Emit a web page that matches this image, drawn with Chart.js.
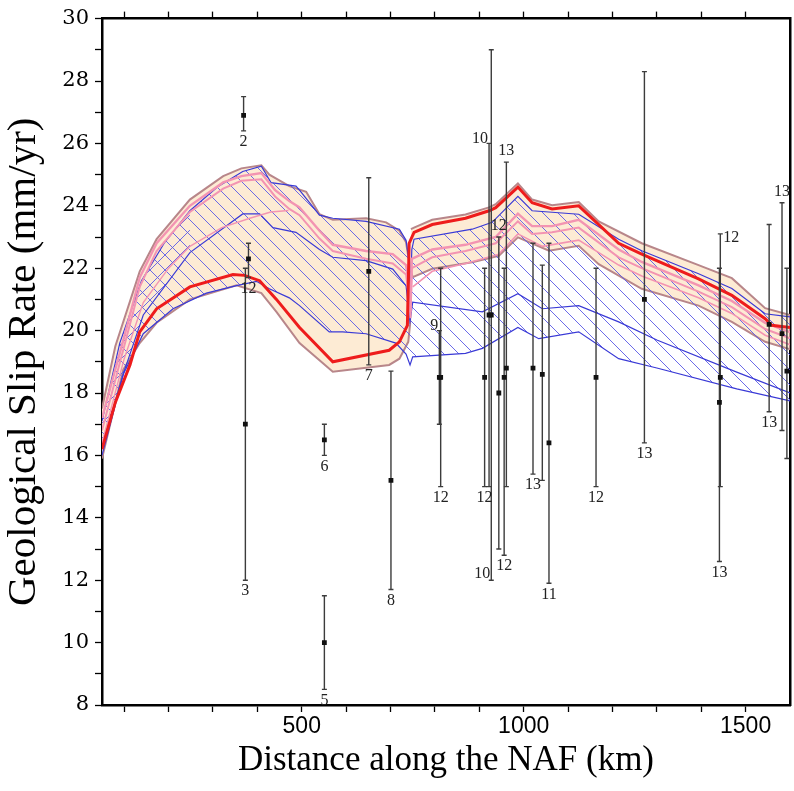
<!DOCTYPE html>
<html>
<head>
<meta charset="UTF-8">
<title>Geological slip rate along the NAF</title>
<script src="https://cdn.jsdelivr.net/npm/chart.js"></script>
<style>
  html, body { margin: 0; padding: 0; background: #fff; }
  #wrap { width: 794px; height: 791px; }
</style>
</head>
<body>
<div id="wrap"><canvas id="slipChart" width="794" height="791"></canvas></div>
<script>
// axis ticks
const xMajor = [500, 1000, 1500];
const xMinor = [100, 200, 300, 400, 500, 600, 700, 800, 900, 1000, 1100, 1200, 1300, 1400, 1500];
const yMajor = [8, 10, 12, 14, 16, 18, 20, 22, 24, 26, 28, 30];

// model curves, [km, mm/yr]
const redLine = [[50,16.2],[80,17.7],[113,18.9],[135,19.96],[173,20.7],[248,21.4],[345,21.8],[371,21.77],[405,21.6],[443,21.0],[495,20.1],[570,19.0],[697,19.37],[720,19.64],[738,20.17],[742,22.8],[753,23.15],[794,23.4],[869,23.6],[922,23.84],[937,23.94],[987,24.6],[1019,24.1],[1064,23.9],[1124,24.0],[1214,22.8],[1266,22.45],[1394,21.66],[1469,21.13],[1544,20.38],[1559,20.17],[1600,20.1]];

const beigeLeftTop = [[50,17.5],[80,19.5],[135,21.9],[173,22.93],[248,24.2],[323,24.95],[364,25.2],[409,25.3],[427,25.0],[472,24.63],[510,24.45],[540,23.73],[570,23.55],[645,23.6],[690,23.47],[720,23.2],[735,22.83],[742,22.2],[745,21.0]];
const beigeLeftBottom = [[50,15.9],[98,18.75],[135,19.6],[173,20.25],[248,21.0],[353,21.45],[409,21.2],[443,20.6],[495,19.6],[570,18.68],[697,18.9],[720,19.1],[740,19.64],[744,20.2]];
const beigeRightTop = [[746,23.25],[753,23.3],[794,23.55],[869,23.72],[922,23.95],[937,24.05],[987,24.72],[1019,24.2],[1064,24.02],[1124,24.12],[1169,23.5],[1266,22.8],[1394,22.1],[1469,21.68],[1544,20.72],[1600,20.5]];
const beigeRightBottom = [[746,21.9],[750,21.71],[794,21.98],[884,22.19],[944,22.4],[987,22.99],[1057,22.56],[1124,22.72],[1169,22.13],[1266,21.34],[1394,20.8],[1469,20.28],[1544,19.64],[1600,19.4]];

const blueTop = [[50,17.1],[90,19.6],[139,21.6],[190,22.8],[248,23.84],[310,24.6],[367,25.1],[409,25.27],[431,24.74],[487,24.63],[495,24.5],[540,23.7],[570,23.6],[645,23.5],[720,23.25],[735,22.9],[741,22.3],[744,20.8],[748,22.6],[753,22.93],[884,23.25],[929,23.47],[987,24.3],[1019,23.84],[1124,23.73],[1214,22.93],[1266,22.56],[1394,21.82],[1469,21.35],[1544,20.54],[1600,20.44]];
const blueMid = [[50,16.3],[100,18.7],[143,20.5],[248,22.5],[367,23.74],[405,23.74],[435,23.3],[487,23.15],[540,22.6],[570,22.35],[645,22.24],[705,21.97],[735,21.44],[744,20.3],[750,20.91],[907,20.6],[987,21.18],[1042,20.7],[1124,20.8],[1214,20.28],[1300,19.7],[1480,18.67],[1600,18.0]];
const blueBottom = [[50,16.0],[98,18.6],[143,19.9],[210,20.7],[285,21.2],[353,21.44],[398,21.58],[427,21.34],[472,21.05],[495,20.8],[562,19.96],[592,19.96],[645,19.9],[712,19.6],[735,19.25],[744,18.9],[750,19.16],[869,19.27],[907,19.43],[987,20.1],[1034,19.74],[1124,19.96],[1214,19.1],[1300,18.8],[1480,18.13],[1600,17.75]];

const pinkA = [[50,17.2],[100,19.8],[135,21.7],[173,22.8],[248,24.0],[323,24.75],[364,24.95],[409,25.05],[440,24.5],[472,24.15],[495,23.95],[540,23.2],[570,22.75],[645,22.55],[705,22.45],[735,22.1],[742,21.4],[745,20.6],[748,22.3],[794,22.6],[869,22.75],[937,23.0],[987,23.75],[1019,23.35],[1064,23.35],[1124,23.55],[1214,22.6],[1266,22.2],[1394,21.45],[1469,20.95],[1544,20.25],[1600,19.95]];
const pinkB = [[50,16.8],[100,19.5],[135,21.4],[173,22.55],[248,23.8],[323,24.55],[364,24.8],[409,24.85],[440,24.3],[472,23.9],[495,23.7],[540,22.95],[570,22.55],[645,22.3],[705,22.15],[735,21.8],[742,21.0],[745,20.4],[748,22.0],[794,22.35],[869,22.55],[937,22.8],[987,23.5],[1019,23.1],[1064,23.15],[1124,23.3],[1214,22.35],[1266,22.0],[1394,21.25],[1469,20.75],[1544,20.05],[1600,19.75]];
const pinkC = [[50,16.4],[100,19.1],[143,20.9],[200,22.0],[248,22.7],[320,23.3],[383,23.6],[430,23.8],[470,23.85]];
const pinkD = [[750,21.4],[794,21.9],[869,22.15],[944,22.45],[987,23.1],[1042,22.7],[1124,22.9],[1214,22.1],[1266,21.75],[1394,21.05],[1469,20.55],[1544,19.85],[1600,19.55]];

// geological sites
const siteX     = [369, 380, 373, 551, 551, 651, 701, 810, 813, 912, 922, 927, 944, 956, 961, 1021, 1042, 1057, 1163, 1272, 1443, 1441, 1553, 1582, 1593];
const siteRate  = [26.9, 22.3, 17.0, 16.5, 10.0, 21.9, 15.2, 18.5, 18.5, 18.5, 20.5, 20.5, 18.0, 18.5, 18.8, 18.8, 18.6, 16.4, 18.5, 21.0, 18.5, 17.7, 20.2, 19.9, 18.7];
const siteLow   = [26.4, 21.7, 12.0, 16.0, 8.5, 18.9, 11.7, 17.0, 15.0, 15.0, 15.0, 12.0, 13.0, 12.8, 15.0, 15.4, 15.2, 11.9, 15.0, 16.4, 15.0, 12.6, 17.4, 16.8, 15.9];
const siteHigh  = [27.5, 22.8, 22.0, 17.0, 11.5, 24.9, 18.7, 20.0, 22.0, 22.0, 26.0, 29.0, 23.0, 22.0, 25.4, 22.8, 22.1, 22.8, 22.0, 28.3, 23.1, 22.0, 23.4, 24.1, 22.0];
const siteLabel = ['2', '12', '3', '6', '5', '7', '8', '9', '12', '12', '10', '10', '12', '12', '13', '13', '', '11', '12', '13', '12', '13', '13', '13', ''];
const siteSide  = ['b', 'b', 'b', 'b', 'b', 'b', 'b', 'tl', 'b', 'b', 'tl', 'bl', 't', 'b', 't', 'b', '', 'b', 'b', 'b', 'tr', 'b', 'b', 't', ''];

const BEIGE = '#fdebd4';
const BEIGE_EDGE = '#b8868a';
const BLUE = '#3a3ad6';
const HATCH = '#5a5ae6';
const PINK = '#f394b2';
const RED = '#ee1c1c';

function pts(a) { return a.map(p => ({x: p[0], y: p[1]})); }
function polygon(top, bottom) { return pts(top.concat(bottom.slice().reverse())); }

function hatch(dir) {
    const c = document.createElement('canvas');
    c.width = 15; c.height = 15;
    const g = c.getContext('2d');
    g.strokeStyle = HATCH;
    g.lineWidth = 0.9;
    g.beginPath();
    if (dir === '\\') { g.moveTo(-5, -5); g.lineTo(20, 20); }
    else { g.moveTo(-5, 20); g.lineTo(20, -5); }
    g.stroke();
    return g.createPattern(c, 'repeat');
}

function curve(data, color, width, order) {
    return { data: pts(data), showLine: true, borderColor: color, borderWidth: width,
             pointRadius: 0, fill: false, tension: 0, order: order };
}
function area(data, fillColor, edgeColor, edgeWidth, order) {
    return { data: data, showLine: true, backgroundColor: fillColor, borderColor: edgeColor,
             borderWidth: edgeWidth, pointRadius: 0, fill: 'shape', tension: 0, order: order };
}

const crossTop = blueTop.filter(p => p[0] <= 250);
const crossBottom = blueMid.filter(p => p[0] <= 250);

const datasets = [
    area(polygon(beigeLeftTop, beigeLeftBottom), BEIGE, BEIGE_EDGE, 2, 20),
    area(polygon(beigeRightTop, beigeRightBottom), BEIGE, BEIGE_EDGE, 2, 20),
    area(polygon(blueTop, blueBottom), hatch('\\'), 'rgba(0,0,0,0)', 0.01, 18),
    area(polygon(crossTop, crossBottom), hatch('/'), 'rgba(0,0,0,0)', 0.01, 17),
    curve(blueTop, BLUE, 1.2, 10),
    curve(blueMid, BLUE, 1.2, 10),
    curve(blueBottom, BLUE, 1.2, 10),
    curve(pinkA, PINK, 2.4, 8),
    curve(pinkB, PINK, 2, 8),
    curve(pinkC, PINK, 1.4, 8),
    curve(pinkD, PINK, 1.6, 8),
    curve(redLine, RED, 3, 5),
    { data: siteX.map((x, i) => ({x: x, y: siteRate[i]})), showLine: false,
      pointStyle: 'rect', pointRadius: 3.4, backgroundColor: '#111', borderColor: '#111',
      borderWidth: 0, order: 1 }
];
const SITE_INDEX = datasets.length - 1;

const errorBars = {
    id: 'errorBars',
    beforeDatasetDraw(chart, args) {
        if (args.index !== SITE_INDEX) return;
        const ctx = chart.ctx, xs = chart.scales.x, ys = chart.scales.y;
        ctx.save();
        ctx.strokeStyle = '#3c3c3c';
        ctx.lineWidth = 1.4;
        siteX.forEach((v, i) => {
            const px = xs.getPixelForValue(v);
            const top = ys.getPixelForValue(siteHigh[i]);
            const bot = ys.getPixelForValue(siteLow[i]);
            ctx.beginPath();
            ctx.moveTo(px, top); ctx.lineTo(px, bot);
            ctx.moveTo(px - 2.5, top); ctx.lineTo(px + 2.5, top);
            ctx.moveTo(px - 2.5, bot); ctx.lineTo(px + 2.5, bot);
            ctx.stroke();
        });
        ctx.restore();
    },
    afterDatasetsDraw(chart) {
        const ctx = chart.ctx, xs = chart.scales.x, ys = chart.scales.y;
        ctx.save();
        ctx.fillStyle = '#222';
        ctx.font = '16px "Liberation Serif", serif';
        siteX.forEach((v, i) => {
            const text = siteLabel[i];
            if (!text) return;
            const px = xs.getPixelForValue(v);
            const top = ys.getPixelForValue(siteHigh[i]);
            const bot = ys.getPixelForValue(siteLow[i]);
            const side = siteSide[i];
            if (side === 'b') { ctx.textAlign = 'center'; ctx.textBaseline = 'top'; ctx.fillText(text, px, bot + 3); }
            else if (side === 't') { ctx.textAlign = 'center'; ctx.textBaseline = 'bottom'; ctx.fillText(text, px, top - 3); }
            else if (side === 'tl') { ctx.textAlign = 'right'; ctx.textBaseline = 'bottom'; ctx.fillText(text, px - 1, top + 3); }
            else if (side === 'bl') { ctx.textAlign = 'right'; ctx.textBaseline = 'bottom'; ctx.fillText(text, px - 1, bot + 2); }
            else if (side === 'tr') { ctx.textAlign = 'left'; ctx.textBaseline = 'middle'; ctx.fillText(text, px + 3, top + 4); }
        });
        ctx.restore();
    }
};

const frameGrid = { display: true, drawOnChartArea: false, drawTicks: true, tickLength: 7, tickColor: '#000', tickWidth: 1.3 };
const frameBorder = { display: true, color: '#000', width: 2.5 };

new Chart(document.getElementById('slipChart'), {
    type: 'scatter',
    data: { datasets: datasets },
    plugins: [errorBars],
    options: {
        responsive: false,
        animation: false,
        devicePixelRatio: 1,
        layout: { padding: { top: 0, right: 0, bottom: 0, left: 0 } },
        plugins: { legend: { display: false }, tooltip: { enabled: false } },
        scales: {
            x: {
                type: 'linear', position: 'bottom', min: 50, max: 1600,
                afterBuildTicks: s => { s.ticks = xMinor.map(v => ({value: v})); },
                afterFit: s => { s.height = 86; },
                ticks: { autoSkip: false, maxRotation: 0, padding: 1, color: '#000',
                         font: { family: '"Liberation Sans", Arial, sans-serif', size: 23 },
                         callback: v => xMajor.includes(v) ? String(v) : '' },
                grid: frameGrid, border: frameBorder,
                title: { display: true, text: 'Distance along the NAF (km)', color: '#000',
                         font: { family: '"Liberation Serif", "Times New Roman", serif', size: 35 },
                         padding: { top: 0, bottom: 9 } }
            },
            xTop: {
                type: 'linear', position: 'top', min: 50, max: 1600,
                afterBuildTicks: s => { s.ticks = xMinor.map(v => ({value: v})); },
                afterFit: s => { s.height = 15; },
                ticks: { display: false },
                grid: frameGrid, border: frameBorder
            },
            y: {
                type: 'linear', position: 'left', min: 8, max: 30,
                afterBuildTicks: s => { const t = []; for (let v = 8; v <= 30; v++) t.push({value: v}); s.ticks = t; },
                afterFit: s => { s.width = 102; },
                ticks: { autoSkip: false, padding: 6, color: '#000',
                         font: { family: '"DejaVu Serif", serif', size: 21 },
                         callback: v => yMajor.includes(v) ? String(v) : '' },
                grid: frameGrid, border: frameBorder,
                title: { display: true, text: 'Geological Slip Rate (mm/yr)', color: '#000',
                         font: { family: '"Liberation Serif", "Times New Roman", serif', size: 41 },
                         padding: { top: 0, bottom: 0 } }
            },
            yRight: {
                type: 'linear', position: 'right', min: 8, max: 30,
                afterFit: s => { s.width = 2; },
                ticks: { display: false },
                grid: { display: false, drawOnChartArea: false },
                border: frameBorder
            }
        }
    }
});
</script>
</body>
</html>
